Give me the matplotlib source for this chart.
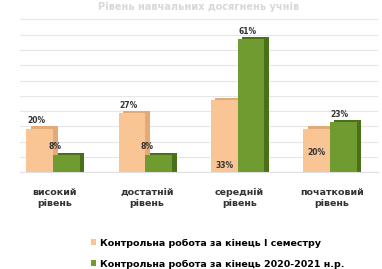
import numpy as np
import matplotlib
matplotlib.use("Agg")
import matplotlib.pyplot as plt

# data
categories = ["високий\nрівень", "достатній\nрівень", "середній\nрівень", "початковий\nрівень"]
sem1 = [20, 27, 33, 20]
year = [8, 8, 61, 23]
series_names = ["Контрольна робота за кінець І семестру",
                "Контрольна робота за кінець 2020-2021 н.р."]
title = "Рівень навчальних досягнень учнів"

c_or, c_or_side = "#F9C595", "#E3A977"
c_gr, c_gr_side = "#6F9B30", "#4A7019"

fig = plt.figure(figsize=(3.82, 2.69), dpi=100)
ax = fig.add_axes([0.052, 0.36, 0.937, 0.592])

x = np.arange(len(categories))
w = 0.29
depth = 0.05

# fake 3d side faces
ax.bar(x - w / 2 + depth, np.array(sem1) + 1, w, color=c_or_side, zorder=2)
ax.bar(x + w / 2 + depth, np.array(year) + 1, w, color=c_gr_side, zorder=2)
b1 = ax.bar(x - w / 2, sem1, w, color=c_or, zorder=3, label=series_names[0])
b2 = ax.bar(x + w / 2, year, w, color=c_gr, zorder=3, label=series_names[1])

# value labels (positions as in the picture)
kw = dict(fontsize=5.5, fontweight="bold", color="#333333", zorder=5)
for i in range(len(categories)):
    if i == 2:
        ax.text(x[i] - w / 2, 1.2, f"{sem1[i]}%", ha="center", va="bottom", **kw)
    elif i == 3:
        ax.text(x[i] - w / 2, sem1[i] * 0.45, f"{sem1[i]}%", ha="center", va="center", **kw)
    else:
        ax.text(x[i] - w / 2 - 0.04, sem1[i] + 1.5, f"{sem1[i]}%", ha="center", va="bottom", **kw)
    if i < 2:
        ax.text(x[i] + 0.02, year[i] + 1.5, f"{year[i]}%", ha="center", va="bottom", **kw)
    else:
        ax.text(x[i] + w / 2 - 0.04, year[i] + 1.5, f"{year[i]}%", ha="center", va="bottom", **kw)

ax.set_xlim(-0.36, 3.52)
ax.set_ylim(0, 73)
ax.set_yticks(np.arange(0, 74, 7))
ax.yaxis.grid(True, color="#e6e6e6", lw=0.8, zorder=0)
ax.tick_params(axis="y", left=False, labelleft=False)
ax.tick_params(axis="x", bottom=False, pad=8)
ax.set_xticks(x + 0.02)
ax.set_xticklabels(categories, fontsize=6.8, fontweight="bold", color="#333333",
                   linespacing=1.3)
for s in ["top", "right", "left"]:
    ax.spines[s].set_visible(False)
ax.spines["bottom"].set_color("#e0e0e0")

fig.text(0.52, 0.975, title, ha="center", va="center", fontsize=7,
         fontweight="bold", color="#d8d8d8")

fig.legend(handles=[b1, b2], labels=series_names, loc="lower center",
           bbox_to_anchor=(0.57, -0.03), frameon=False,
           prop={"weight": "bold", "size": 6.8}, handlelength=0.6, handleheight=0.6,
           labelspacing=1.25, handletextpad=0.4)

fig.savefig("out.png", dpi=100)
